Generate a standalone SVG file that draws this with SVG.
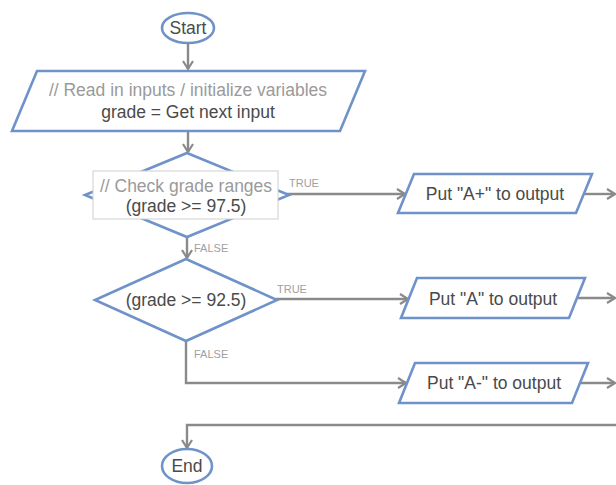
<svg xmlns="http://www.w3.org/2000/svg" width="616" height="485" viewBox="0 0 616 485">
  <defs>
    <style>
      .shape { fill: #ffffff; stroke: #6f92c9; stroke-width: 2.6; stroke-linejoin: miter; }
      .edge { fill: none; stroke: #8a8a8a; stroke-width: 2.4; }
      .txt { font-family: "Liberation Sans", Arial, sans-serif; font-size: 17.5px; fill: #4a4a4a; text-anchor: middle; }
      .note { fill: #9a9a9a; }
      .lbl { font-family: "Liberation Sans", Arial, sans-serif; font-size: 11px; fill: #a0a0a0; }
      .tag { fill: #ffffff; stroke: #cfcfcf; stroke-width: 1; }
    </style>
    <marker id="arrow" markerUnits="userSpaceOnUse" markerWidth="14" markerHeight="14" refX="9" refY="6" orient="auto">
      <path d="M1,1 L9,6 L1,11" fill="none" stroke="#8a8a8a" stroke-width="2.2"/>
    </marker>
  </defs>
  <rect width="616" height="485" fill="#ffffff"/>

  <!-- connectors -->
  <g id="connectors">
    <path class="edge" d="M188,43 V69" marker-end="url(#arrow)"/>
    <path class="edge" d="M188,131 V152" marker-end="url(#arrow)"/>
    <path class="edge" d="M187,237 V258" marker-end="url(#arrow)"/>
    <path class="edge" d="M287,194 H405" marker-end="url(#arrow)"/>
    <path class="edge" d="M276,299 H408" marker-end="url(#arrow)"/>
    <path class="edge" d="M186,341 V383 H406" marker-end="url(#arrow)"/>
    <path class="edge" d="M585,194 H615" marker-end="url(#arrow)"/>
    <path class="edge" d="M578,298 H615" marker-end="url(#arrow)"/>
    <path class="edge" d="M581,383 H615" marker-end="url(#arrow)"/>
    <path class="edge" d="M620,425 H187 V448" marker-end="url(#arrow)"/>
    <text class="lbl" x="289" y="187">TRUE</text>
    <text class="lbl" x="194" y="252">FALSE</text>
    <text class="lbl" x="277" y="293">TRUE</text>
    <text class="lbl" x="194" y="358">FALSE</text>
  </g>

  <g id="start">
    <ellipse class="shape" cx="188" cy="28" rx="26" ry="15"/>
    <text class="txt" x="188" y="34">Start</text>
  </g>

  <g id="read-input">
    <polygon class="shape" points="37,71 365,71 340,131 12,131"/>
    <text class="txt note" x="188" y="96">// Read in inputs / initialize variables</text>
    <text class="txt" x="188" y="118">grade = Get next input</text>
  </g>

  <g id="check-97">
    <polygon class="shape" points="187,153 289,195 187,237 85,195"/>
    <rect class="tag" x="93" y="171" width="185" height="48"/>
    <text class="txt note" x="186" y="192">// Check grade ranges</text>
    <text class="txt" x="186" y="212">(grade &gt;= 97.5)</text>
  </g>

  <g id="check-92">
    <polygon class="shape" points="186,259 277,300 186,341 95,300"/>
    <text class="txt" x="186" y="306">(grade &gt;= 92.5)</text>
  </g>

  <g id="out-a-plus">
    <polygon class="shape" points="414,174 592,174 576,213 398,213"/>
    <text class="txt" x="495" y="200">Put "A+" to output</text>
  </g>

  <g id="out-a">
    <polygon class="shape" points="417,278 585,278 569,318 401,318"/>
    <text class="txt" x="493" y="305">Put "A" to output</text>
  </g>

  <g id="out-a-minus">
    <polygon class="shape" points="415,363 588,363 572,403 399,403"/>
    <text class="txt" x="494" y="389">Put "A-" to output</text>
  </g>

  <g id="end">
    <ellipse class="shape" cx="187" cy="466" rx="25" ry="17"/>
    <text class="txt" x="187" y="472">End</text>
  </g>
</svg>
